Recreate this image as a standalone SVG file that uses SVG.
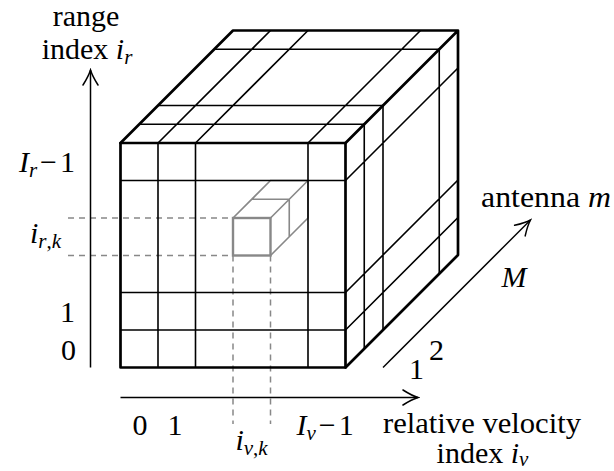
<svg xmlns="http://www.w3.org/2000/svg" width="614" height="471" viewBox="0 0 614 471">
<style>
.thick{stroke:#000;stroke-width:2.7;fill:none;stroke-linecap:round;stroke-linejoin:round}
.grid{stroke:#000;stroke-width:1.6;fill:none}
.sub{stroke:#888;stroke-width:1.6;fill:none}
.subf{stroke:#888;stroke-width:2.4;fill:none}
.dash{stroke:#888;stroke-width:1.5;stroke-dasharray:6 5;fill:none}
.ax{stroke:#000;stroke-width:1.5;fill:none}
text{font-family:"Liberation Serif","Times New Roman",serif;font-size:30px;fill:#000}
.it{font-style:italic}
.sb{font-style:italic;font-size:21px}
</style>
<defs>
<marker id="arr" viewBox="-17 -9 19 18" markerWidth="19" markerHeight="18" refX="0" refY="0" orient="auto" markerUnits="userSpaceOnUse">
<path d="M-15,-7.5 Q-6,-1.8 0,0 Q-6,1.8 -15,7.5" fill="none" stroke="#000" stroke-width="1.5" stroke-linecap="round"/>
</marker>
</defs>

<g id="subcube">
<path class="sub" d="M233,218 L270.5,180.5 L308,180.5 L308,218 L270.5,255.5 M270.5,218 L308,180.5 M251.75,199.25 L289.25,199.25 L289.25,236.75"/>
<rect class="subf" x="233" y="218" width="37.5" height="37.5"/>
</g>

<g id="dashes">
<path class="dash" d="M68,218 H233 M68,255.5 H233 M233,255.5 V424 M270.5,255.5 V424"/>
</g>

<g id="cube">
<path class="grid" d="M158,143 V367.5 M195.5,143 V367.5 M308,143 V367.5 M120.5,180.5 H345.5 M120.5,292.5 H345.5 M120.5,330 H345.5"/>
<path class="grid" d="M139.25,124.25 H364.25 M158,105.5 H383 M214.25,49.25 H439.25 M158,143 L270.5,30.5 M195.5,143 L308,30.5 M308,143 L420.5,30.5"/>
<path class="grid" d="M364.25,124.25 V348.75 M383,105.5 V330 M439.25,49.25 V273.75 M345.5,180.5 L458,68 M345.5,292.5 L458,180 M345.5,330 L458,217.5"/>
<rect class="thick" x="120.5" y="143" width="225" height="224.5"/>
<path class="thick" d="M120.5,143 L233,30.5 L458,30.5 L345.5,143 M458,30.5 V255 L345.5,367.5"/>
</g>

<g id="connectors">
<line class="ax" x1="90.5" y1="367.5" x2="90.5" y2="70" marker-end="url(#arr)"/>
<line class="ax" x1="120.5" y1="397.5" x2="418" y2="397.5" marker-end="url(#arr)"/>
<line class="ax" x1="383" y1="367.5" x2="530.5" y2="220" marker-end="url(#arr)"/>
</g>

<g id="labels">
<text x="86" y="26" text-anchor="middle">range</text>
<text x="87" y="59" text-anchor="middle">index <tspan class="it">i</tspan><tspan class="sb" dy="5">r</tspan></text>
<text x="75" y="172" text-anchor="end"><tspan class="it">I</tspan><tspan class="sb" dy="5">r</tspan><tspan dy="-5" dx="3">−</tspan><tspan dx="3">1</tspan></text>
<text x="61" y="243" text-anchor="end"><tspan class="it">i</tspan><tspan class="sb" dy="5">r</tspan><tspan font-size="21">,</tspan><tspan class="sb">k</tspan></text>
<text x="75" y="322" text-anchor="end">1</text>
<text x="76" y="360" text-anchor="end">0</text>
<text x="140" y="435" text-anchor="middle">0</text>
<text x="175" y="435" text-anchor="middle">1</text>
<text x="325" y="435" text-anchor="middle"><tspan class="it">I</tspan><tspan class="sb" dy="5">v</tspan><tspan dy="-5" dx="3">−</tspan><tspan dx="3">1</tspan></text>
<text x="251.5" y="450" text-anchor="middle"><tspan class="it">i</tspan><tspan class="sb" dy="5">v</tspan><tspan font-size="21">,</tspan><tspan class="sb">k</tspan></text>
<text x="383" y="433" textLength="198" lengthAdjust="spacingAndGlyphs">relative velocity</text>
<text x="482.5" y="463" text-anchor="middle">index <tspan class="it">i</tspan><tspan class="sb" dy="3">v</tspan></text>
<text x="481" y="207" textLength="130" lengthAdjust="spacingAndGlyphs">antenna <tspan class="it">m</tspan></text>
<text x="514" y="287" text-anchor="middle" class="it">M</text>
<text x="416.5" y="379" text-anchor="middle">1</text>
<text x="436.5" y="360" text-anchor="middle">2</text>
</g>
</svg>
